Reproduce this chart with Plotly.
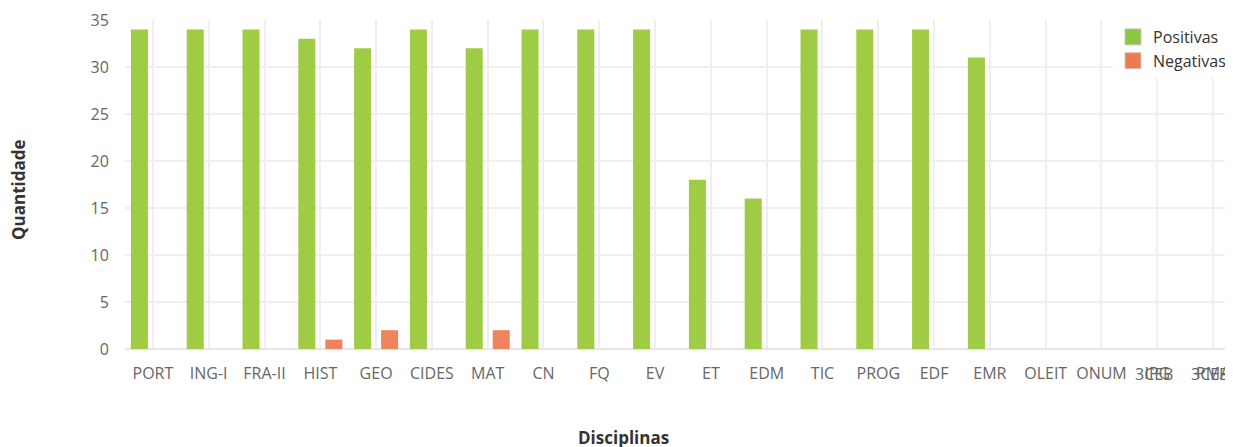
import plotly.graph_objects as go

# Disciplinas e contagens
disciplinas = ['PORT', 'ING-I', 'FRA-II', 'HIST', 'GEO', 'CIDES', 'MAT', 'CN', 'FQ', 'EV',
               'ET', 'EDM', 'TIC', 'PROG', 'EDF', 'EMR', 'OLEIT', 'ONUM', 'IPG', 'PMA']
sufixos = ['', '', '', '', '', '', '', '', '', '',
           '', '', '', '', '', '', '', '', '3CEB', '3CEB']
positivas = [34, 34, 34, 33, 32, 34, 32, 34, 34, 34, 18, 16, 34, 34, 34, 31, 0, 0, 0, 0]
negativas = [0, 0, 0, 1, 2, 0, 2, 0, 0, 0, 0, 0, 0, 0, 0, 0, 0, 0, 0, 0]
y_ticks = [0, 5, 10, 15, 20, 25, 30, 35]

FONT = 'Open Sans'
GREEN = '#9fcb45'
RED = '#ef845c'
idx = list(range(len(disciplinas)))

# page body has an 8px margin, so the figure is sized/offset to compensate
W, H = 1225, 439
L, T, B = 117, 12, 98
plot_w = W - L
plot_h = H - T - B

fig = go.Figure()

fig.add_trace(go.Bar(
    x=idx, y=positivas, name='Positivas', showlegend=False,
    width=0.305, offset=-0.394,
    marker=dict(color=GREEN, line=dict(width=0)),
))
fig.add_trace(go.Bar(
    x=idx, y=negativas, name='Negativas', showlegend=False,
    width=0.305, offset=0.09,
    marker=dict(color=RED, line=dict(width=0)),
))

# legend entries with bordered square swatches
for name, col in [('Positivas', '#8dc63f'), ('Negativas', '#ef7a50')]:
    fig.add_trace(go.Scatter(
        x=[None], y=[None], mode='markers', name=name,
        marker=dict(symbol='square', size=16, color=col,
                    line=dict(color='#c8c8c8', width=1)),
    ))

# labels that overlap in the original (second line drawn on top of the first)
for i, s in enumerate(sufixos):
    if s:
        fig.add_annotation(
            x=i, y=0, xref='x', yref='y', text=s, showarrow=False,
            xanchor='center', yanchor='top', xshift=-3, yshift=-12,
            font=dict(family=FONT, size=16, color='#666666'),
        )

# axis titles
fig.add_annotation(
    x=(10 - L) / plot_w, y=(plot_h - 182 + T) / plot_h, xref='paper', yref='paper',
    text='<b>Quantidade</b>', textangle=-90, showarrow=False,
    xanchor='center', yanchor='middle',
    font=dict(family=FONT, size=17, color='#333333'),
)
fig.add_annotation(
    x=(615 - L) / plot_w, y=(plot_h - 429 + T) / plot_h, xref='paper', yref='paper',
    text='<b>Disciplinas</b>', showarrow=False, xanchor='center', yanchor='middle',
    font=dict(family=FONT, size=17, color='#333333'),
)

fig.update_layout(
    width=W, height=H, autosize=False,
    margin=dict(l=L, r=0, t=T, b=B),
    paper_bgcolor='white', plot_bgcolor='white',
    font=dict(family=FONT, size=16, color='#666666'),
    barmode='group',
    showlegend=True,
    legend=dict(
        x=(1105 - L) / plot_w, y=(plot_h - 12 + T) / plot_h, xanchor='left', yanchor='top',
        bgcolor='white', font=dict(family=FONT, size=16, color='#333333'),
        itemsizing='trace', tracegroupgap=0,
    ),
    xaxis=dict(
        tickmode='array', tickvals=idx, ticktext=disciplinas,
        range=[-0.5, 19.357],
        showgrid=True, gridcolor='#efefef', gridwidth=2,
        zeroline=False, showline=False,
        ticks='outside', ticklen=10, tickcolor='rgba(0,0,0,0)',
        tickfont=dict(family=FONT, size=16, color='#666666'),
    ),
    yaxis=dict(
        range=[0, 35], tickmode='array', tickvals=y_ticks,
        showgrid=True, gridcolor='#efefef', gridwidth=2,
        zeroline=True, zerolinecolor='#e6e6e6', zerolinewidth=2,
        showline=False,
        ticks='outside', ticklen=12, tickcolor='rgba(0,0,0,0)',
        tickfont=dict(family=FONT, size=16, color='#666666'),
    ),
)

fig.write_html('out.html')
